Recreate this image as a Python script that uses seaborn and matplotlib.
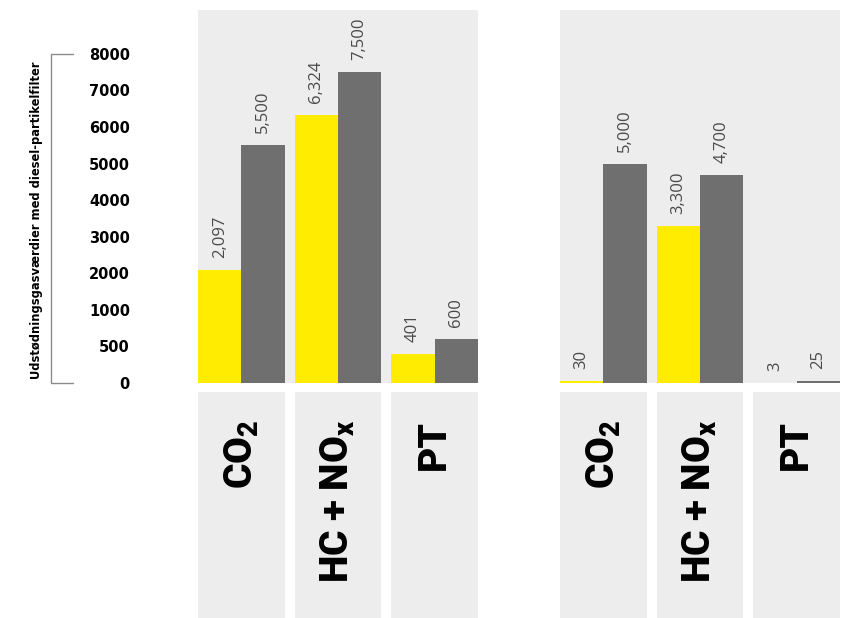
import numpy as np
import pandas as pd
import matplotlib
matplotlib.use("Agg")
import matplotlib.pyplot as plt
import matplotlib.transforms as mtransforms
import seaborn as sns

# -------------------------
# Data
# -------------------------
stoffer = ['CO2', 'HC + NOx', 'PT']
stof_labels = [r'CO$_\mathregular{2}$', r'HC + NO$_\mathregular{x}$', 'PT']
venstre_maalt = [2097, 6324, 401]
venstre_graense = [5500, 7500, 600]
hoejre_maalt = [30, 3300, 3]
hoejre_graense = [5000, 4700, 25]
y_ticks = [0, 500, 1000, 2000, 3000, 4000, 5000, 6000, 7000, 8000]
y_titel = 'Udstødningsgasværdier med diesel-partikelfilter'

GUL = '#FFEC00'
GRAA = '#6F6F6F'
BAGGRUND = '#EDEDED'

# akse med lige store trin mellem tick-værdierne (0, 500, 1000, 2000, ...)
trin_v = y_ticks + [20000]
trin_p = list(range(len(y_ticks))) + [len(y_ticks) - 1 + 12]


def frem(v):
    return np.interp(v, trin_v, trin_p)


def tilbage(p):
    return np.interp(p, trin_p, trin_v)


sns.set_theme(style='white')
plt.rcParams['font.family'] = ['DejaVu Sans']

W, H = 851, 618
fig = plt.figure(figsize=(W / 100, H / 100), dpi=100)

paneler = [(198, venstre_maalt, venstre_graense, True),
           (560, hoejre_maalt, hoejre_graense, False)]

for left_px, maalt, graense, med_akse in paneler:
    ax = fig.add_axes([left_px / W, (H - 383) / H, 280 / W, 373 / H])
    ax_lab = fig.add_axes([left_px / W, 0, 280 / W, 226 / H], sharex=ax)

    df = pd.DataFrame({
        'stof': stoffer * 2,
        'værdi': maalt + graense,
        'serie': ['målt'] * 3 + ['grænse'] * 3,
    })
    sns.barplot(data=df, x='stof', y='værdi', hue='serie',
                palette=[GUL, GRAA], width=0.9, saturation=1,
                errorbar=None, legend=False, linewidth=0, ax=ax)

    ax.set_yscale('function', functions=(frem, tilbage))
    ax.set_ylim(0, 9200)
    ax.set_xlim(-0.45, 2.45)
    ax.set_facecolor(BAGGRUND)
    for s in ax.spines.values():
        s.set_visible(False)
    ax.set_xlabel('')
    ax.set_ylabel('')
    ax.set_xticks([])

    for c in ax.containers:
        ax.bar_label(c, labels=[f'{v:,.0f}' for v in c.datavalues],
                     rotation=90, padding=8.5, fontsize=12,
                     color='#4a4a4a', family=['Open Sans', 'DejaVu Sans'])

    if med_akse:
        ax.set_yticks(y_ticks)
        ax.set_yticklabels([str(t) for t in y_ticks])
        ax.tick_params(axis='y', length=0, pad=49, labelsize=10.5,
                       labelcolor='black')
        for lab in ax.get_yticklabels():
            lab.set_fontweight('bold')
        trans = mtransforms.blended_transform_factory(ax.transAxes, ax.transData)
        ax.plot([-0.446, -0.525, -0.525, -0.446],
                [y_ticks[0], y_ticks[0], y_ticks[-1], y_ticks[-1]],
                transform=trans, clip_on=False, color='#8c8c8c', lw=1)
    else:
        ax.set_yticks([])

    # kategorifelter under søjlerne
    ax_lab.axis('off')
    trans_lab = mtransforms.blended_transform_factory(ax_lab.transData, ax_lab.transAxes)
    for i, lab in enumerate(stof_labels):
        ax_lab.axvspan(i - 0.45, i + 0.45, color=BAGGRUND, lw=0)
        ax_lab.text(i, (618 - 420) / 226, lab, transform=trans_lab,
                    rotation=90, ha='center', va='top', fontsize=28,
                    fontweight=900, color='black',
                    family=['Roboto', 'DejaVu Sans'])

fig.text(37 / W, (H - 220) / H, y_titel, rotation=90, ha='center',
         va='center', fontsize=8.3, fontweight='bold', color='black')

fig.savefig('out.png', dpi=100)
